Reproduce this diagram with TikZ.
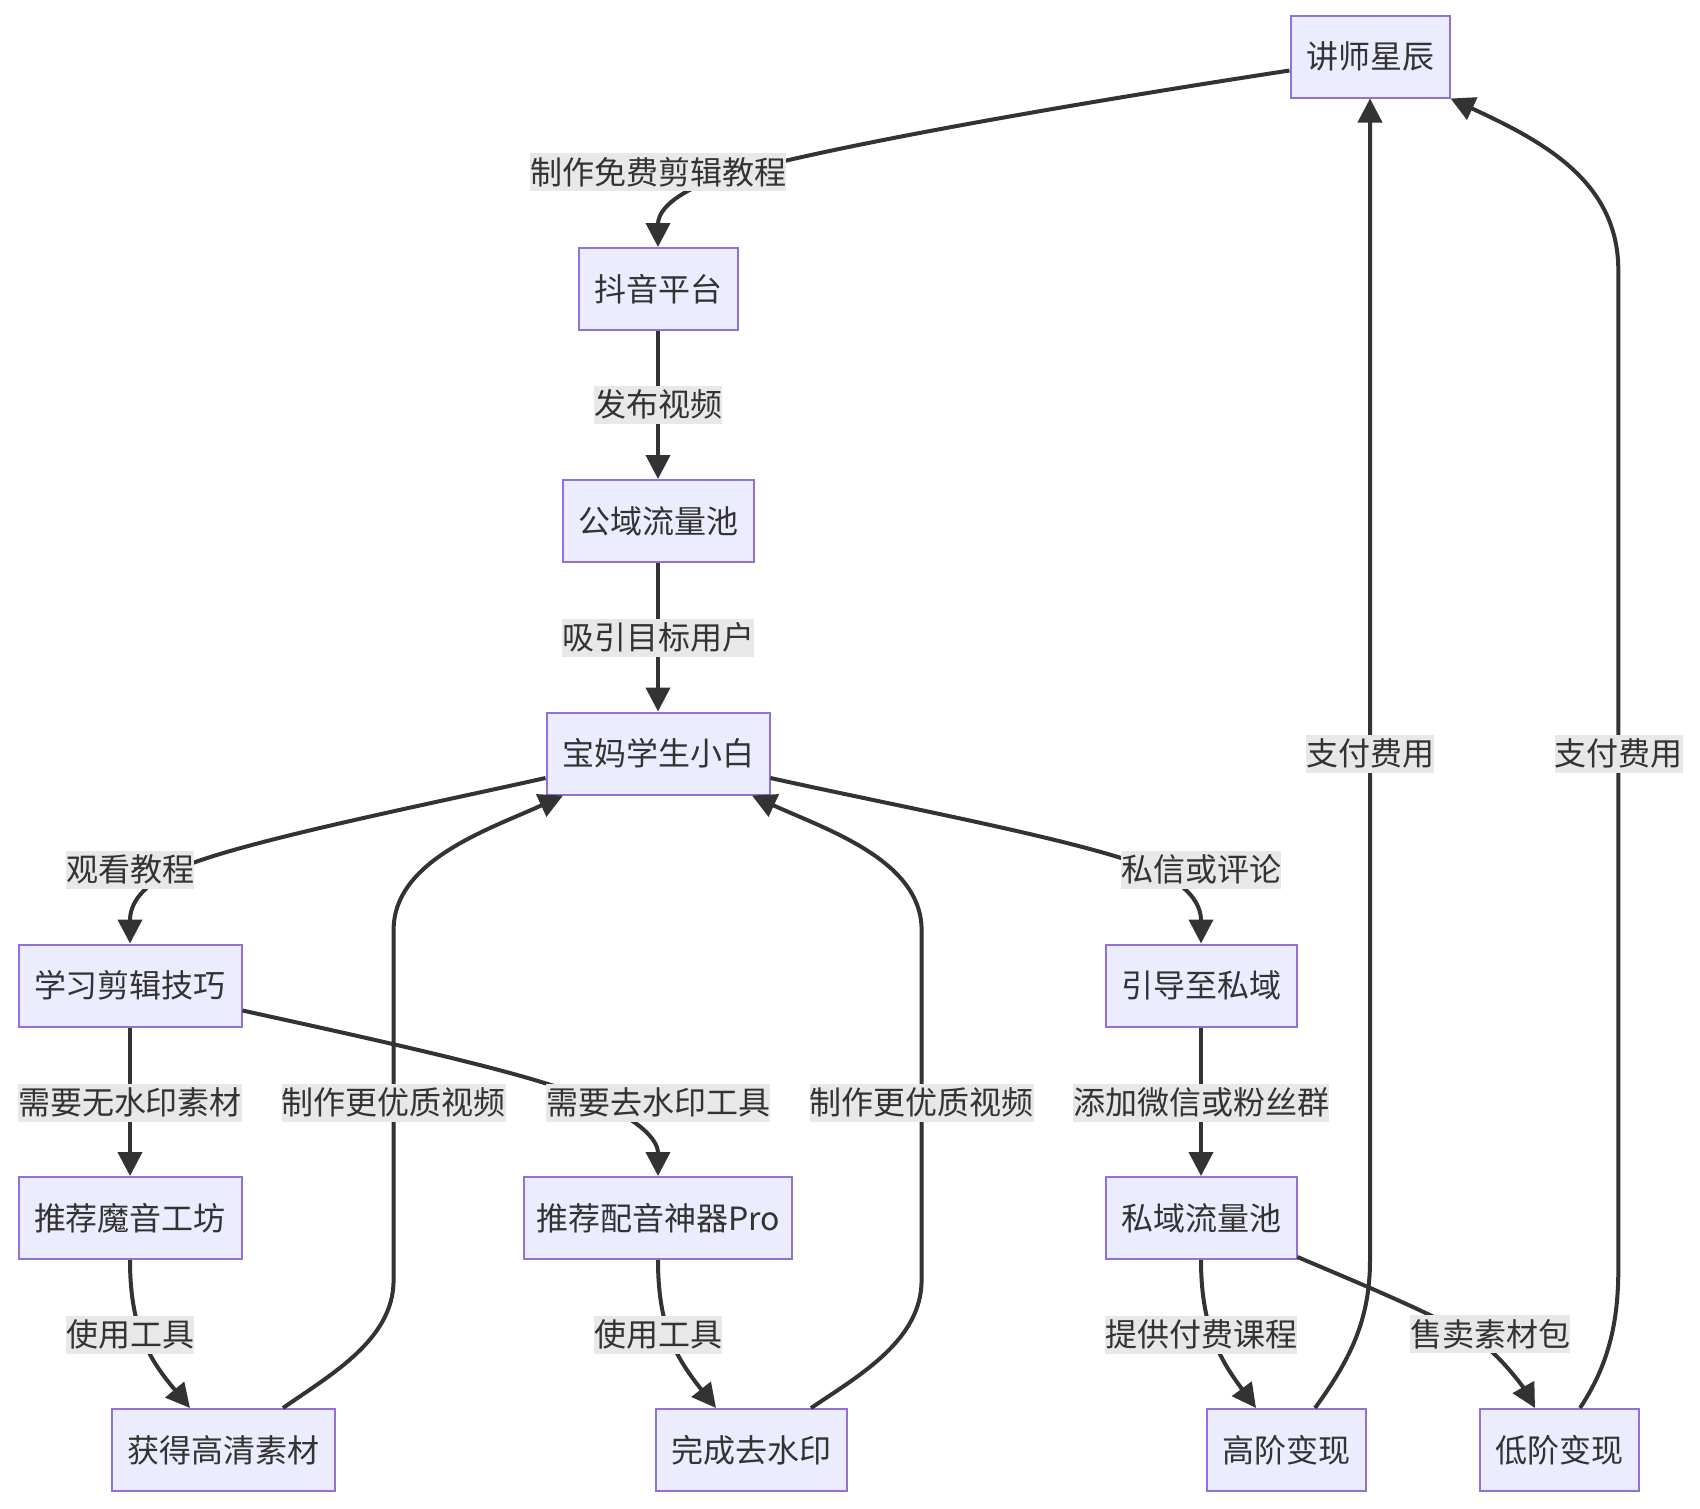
\documentclass[tikz,border=0pt]{standalone}
\usepackage{fontspec}
\newfontfamily\cjk{Noto Sans CJK SC}
\usetikzlibrary{arrows.meta,calc}
\definecolor{nodefill}{HTML}{ECECFF}
\definecolor{nodeline}{HTML}{9370DB}
\definecolor{edgecol}{HTML}{333333}
\definecolor{labbg}{HTML}{E8E8E8}
\tikzset{
  box/.style={draw=nodeline, fill=nodefill, line width=2pt, text=edgecol,
    font=\cjk\fontsize{32}{38}\selectfont, inner xsep=15.5pt, inner ysep=0pt,
    minimum height=82pt, text height=28.2pt, text depth=3.8pt},
  lab/.style={fill=labbg, text=edgecol, font=\cjk\fontsize{32}{38}\selectfont,
    inner xsep=0pt, inner ysep=0pt, minimum height=38pt, text height=28.2pt, text depth=3.8pt},
  edge/.style={draw=edgecol, line width=4pt, -{Triangle[length=24pt,width=24pt]}},
}
\begin{document}
\begin{tikzpicture}[x=1pt,y=-1pt]
\useasboundingbox (0,0) rectangle (1700,1508);
% nodes
\node[box] (js) at (1370,56.5) {讲师星辰};
\node[box] (dy) at (658,289) {抖音平台};
\node[box] (gy) at (658,521) {公域流量池};
\node[box] (bm) at (658,753.5) {宝妈学生小白};
\node[box] (xx) at (130,985.5) {学习剪辑技巧};
\node[box] (yd) at (1201,985.5) {引导至私域};
\node[box] (my) at (130,1218) {推荐魔音工坊};
\node[box, inner xsep=12.5pt] (py) at (658,1218) {推荐配音神器Pro};
\node[box] (sy) at (1201,1218) {私域流量池};
\node[box] (hq) at (223,1450) {获得高清素材};
\node[box] (qs) at (751,1450) {完成去水印};
\node[box] (gj) at (1286,1450) {高阶变现};
\node[box] (dj) at (1559,1450) {低阶变现};
% edges
\draw[edge] (js.west |- 0,70.5) .. controls (1000,115) and (760,160) .. (700,185) .. controls (666,200) and (658,215) .. (dy.north);
\draw[edge] (dy.south) -- (gy.north);
\draw[edge] (gy.south) -- (bm.north);
\draw[edge] (bm.west |- 0,778) .. controls (420,806) and (240,842) .. (180,868) .. controls (140,885) and (130,905) .. (xx.north);
\draw[edge] (bm.east |- 0,778) .. controls (896,806) and (1080,840) .. (1150,868) .. controls (1190,885) and (1201,905) .. (yd.north);
\draw[edge] (xx.south) -- (my.north);
\draw[edge] (xx.east |- 0,1010.5) .. controls (400,1045) and (520,1072) .. (580,1095) .. controls (640,1118) and (658,1140) .. (py.north);
\draw[edge] (yd.south) -- (sy.north);
\draw[edge] (my.south) .. controls (130,1330) and (150,1360) .. (hq.north -| 190,0);
\draw[edge] (py.south) .. controls (658,1330) and (678,1360) .. (qs.north -| 716,0);
\draw[edge] (sy.south) .. controls (1201,1330) and (1222,1362) .. (gj.north -| 1256,0);
\draw[edge] (sy.east |- 0,1257) .. controls (1380,1292) and (1460,1325) .. (1490,1350) .. controls (1510,1368) and (1525,1390) .. (dj.north -| 1535,0);
\draw[edge] (hq.north -| 283,0) .. controls (330,1375) and (393.6,1340) .. (393.6,1280) -- (393.6,930) .. controls (393.6,860) and (490,829) .. (bm.south -| 563,0);
\draw[edge] (qs.north -| 811,0) .. controls (860,1375) and (921.6,1340) .. (921.6,1280) -- (921.6,930) .. controls (921.6,860) and (825,829) .. (bm.south -| 752,0);
\draw[edge] (gj.north -| 1315,0) .. controls (1350,1360) and (1370,1320) .. (1370,1260) -- (js.south);
\draw[edge] (dj.north -| 1580,0) .. controls (1605,1370) and (1618.3,1330) .. (1618.3,1270) -- (1618.3,270) .. controls (1618.3,180) and (1540,140) .. (js.south east);
% labels
\node[lab] (l1) at (658,172) {制作免费剪辑教程};
\node[lab] (l2) at (658,404.5) {发布视频};
\node[lab] (l3) at (658,637.5) {吸引目标用户};
\node[lab] (l4) at (130,869.5) {观看教程};
\node[lab] (l5) at (1201,869.5) {私信或评论};
\node[lab] (l6) at (130,1102.5) {需要无水印素材};
\node[lab] (l7) at (393.6,1102.5) {制作更优质视频};
\node[lab] (l8) at (658,1102.5) {需要去水印工具};
\node[lab] (l9) at (921.6,1102.5) {制作更优质视频};
\node[lab] (l10) at (1201,1102.5) {添加微信或粉丝群};
\node[lab] (l11) at (130,1334.5) {使用工具};
\node[lab] (l12) at (658,1334.5) {使用工具};
\node[lab] (l13) at (1201,1334.5) {提供付费课程};
\node[lab] (l14) at (1490,1334) {售卖素材包};
\node[lab] (l15) at (1370,753.5) {支付费用};
\node[lab] (l16) at (1618.5,753.5) {支付费用};
\end{tikzpicture}
\end{document}
